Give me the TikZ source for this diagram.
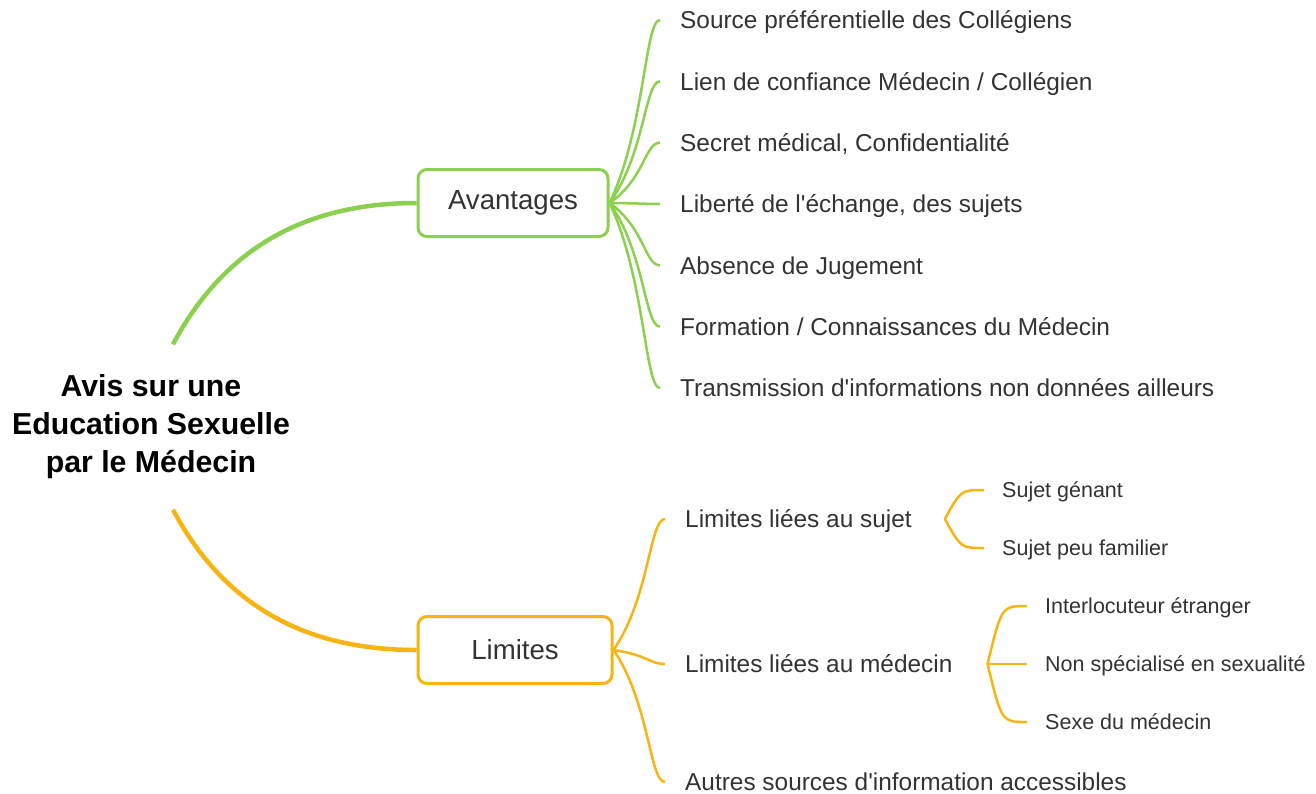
\documentclass[tikz,border=0pt]{standalone}
\usepackage{fontspec}
\setmainfont{Liberation Sans}[Ligatures=TeXOff]
\usetikzlibrary{calc}

\definecolor{mapgreen}{RGB}{139,208,78}
\definecolor{maporange}{RGB}{247,181,20}
\definecolor{maptext}{RGB}{51,51,51}

\tikzset{
  topic/.style={draw,rounded corners=9pt,line width=3pt,minimum height=67pt,text=maptext,font=\fontsize{27.6}{32}\selectfont},
  leaf/.style={anchor=west,inner xsep=20pt,inner ysep=0pt,text height=17.4pt,text depth=0pt,text=maptext,font=\fontsize{24.4}{28}\selectfont},
  subleaf/.style={leaf,inner xsep=18pt,text height=15.4pt,font=\fontsize{21.5}{26}\selectfont},
  trunk/.style={line width=4.5pt},
  branch/.style={line width=2.5pt}
}

\begin{document}
\begin{tikzpicture}[x=1pt,y=1pt]
            \useasboundingbox (0,0) rectangle (1316,-793);

            \node[font=\bfseries\fontsize{30.3}{38}\selectfont,align=center,minimum height=165pt,text=black] (root) at (151,-427) {Avis sur une\\Education Sexuelle\\par le Médecin};

            \node[topic,draw=mapgreen,minimum width=190pt] (avant) at (513,-203) {Avantages};
            \node[topic,draw=maporange,minimum width=194pt] (limit) at (515,-650) {Limites};

            \draw[trunk,mapgreen] ([xshift=22pt]root.north) to[out=62,in=180] (avant.west);
            \draw[trunk,maporange] ([xshift=22pt]root.south) to[out=-62,in=180] (limit.west);

            \foreach \txt [count=\i] in {Source préférentielle des Collégiens,Lien de confiance Médecin / Collégien,{Secret médical, Confidentialité},{Liberté de l'échange, des sujets},Absence de Jugement,Formation / Connaissances du Médecin,Transmission d'informations non données ailleurs}{
              \node[leaf] (a\i) at (660,{-20-61.33*(\i-1)}) {\txt};
              \draw[branch,mapgreen] let \p1=(avant.east),\p2=(a\i.west) in
                (\p1) .. controls ({\x1+0.7*(\x2-\x1)},{\y1+0.4*(\y2-\y1)}) and ({\x2-0.3*(\x2-\x1)},\y2) .. (\p2);
            }

            \node[leaf] (l1) at (665,-519) {Limites liées au sujet};
            \node[leaf] (l2) at (665,-664) {Limites liées au médecin};
            \node[leaf] (l3) at (665,-782) {Autres sources d'information accessibles};

            \foreach \kid in {l1,l2,l3}{
              \draw[branch,maporange] let \p1=(limit.east),\p2=(\kid.west) in
                (\p1) .. controls ({\x1+0.7*(\x2-\x1)},{\y1+0.4*(\y2-\y1)}) and ({\x2-0.3*(\x2-\x1)},\y2) .. (\p2);
            }

            \node[subleaf] (s1) at (984,-490) {Sujet génant};
            \node[subleaf] (s2) at (984,-548) {Sujet peu familier};

            \node[subleaf] (m1) at (1027,-606) {Interlocuteur étranger};
            \node[subleaf] (m2) at (1027,-664) {Non spécialisé en sexualité};
            \node[subleaf] (m3) at (1027,-722) {Sexe du médecin};

            \coordinate (sj) at ([xshift=13pt]l1.east);
            \coordinate (sjc) at ([xshift=16pt]sj);
            \foreach \kid in {s1,s2}{
              \draw[branch,maporange] (sj) .. controls (sjc |- \kid.west) .. (\kid.west);
            }

            \coordinate (md) at ([xshift=15pt]l2.east);
            \coordinate (mdc) at ([xshift=14pt]md);
            \foreach \kid in {m1,m2,m3}{
              \draw[branch,maporange] (md) .. controls (mdc |- \kid.west) .. (\kid.west);
            }
        \end{tikzpicture}
\end{document}
